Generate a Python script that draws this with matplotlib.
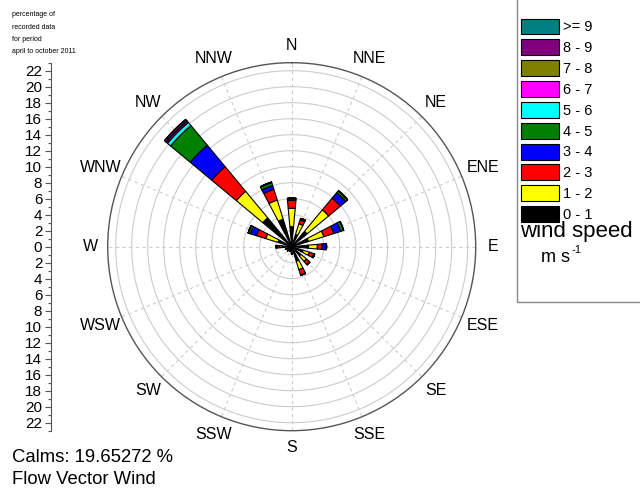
import matplotlib.pyplot as plt
import numpy as np
from matplotlib.patches import Rectangle

plt.rcParams['font.family'] = ['Liberation Sans', 'DejaVu Sans']

# directions (clockwise from N)
directions = ['N', 'NNE', 'NE', 'ENE', 'E', 'ESE', 'SE', 'SSE',
              'S', 'SSW', 'SW', 'WSW', 'W', 'WNW', 'NW', 'NNW']
dir_angles = np.arange(16) * 22.5

# wind speed classes (m/s) and colours
speed_bins = ['0 - 1', '1 - 2', '2 - 3', '3 - 4', '4 - 5',
              '5 - 6', '6 - 7', '7 - 8', '8 - 9', '>= 9']
bin_colors = ['#000000', '#FFFF00', '#FF0000', '#0000FF', '#008000',
              '#00FFFF', '#FF00FF', '#808000', '#800080', '#008080']

# percentage per direction for each speed class
#            N    NNE  NE   ENE  E    ESE  SE   SSE  S    SSW  SW   WSW  W    WNW  NW    NNW
s0_1 = [2.5, 1.6, 2.5, 2.2, 2.1, 1.5, 1.5, 1.9, 0.8, 0.6, 0.6, 0.6, 1.2, 1.8, 4.7, 3.6]
s1_2 = [2.3, 1.4, 3.5, 2.0, 1.1, 0.8, 0.9, 1.1, 0.1, 0.0, 0.1, 0.1, 0.3, 1.6, 4.3, 2.5]
s2_3 = [1.0, 0.5, 1.9, 1.3, 0.6, 0.6, 0.5, 0.7, 0.0, 0.0, 0.0, 0.1, 0.3, 1.2, 4.0, 1.4]
s3_4 = [0.2, 0.2, 0.9, 0.9, 0.5, 0.1, 0.05, 0.05, 0.0, 0.0, 0.0, 0.0, 0.1, 0.8, 3.5, 0.5]
s4_5 = [0.05, 0.0, 0.3, 0.4, 0.05, 0.0, 0.0, 0.0, 0.0, 0.0, 0.0, 0.0, 0.05, 0.3, 3.2, 0.4]
s5_6 = [0.0, 0.0, 0.0, 0.0, 0.0, 0.0, 0.0, 0.0, 0.0, 0.0, 0.0, 0.0, 0.0, 0.0, 0.5, 0.05]
s6_7 = [0.0, 0.0, 0.0, 0.0, 0.0, 0.0, 0.0, 0.0, 0.0, 0.0, 0.0, 0.0, 0.0, 0.0, 0.2, 0.0]
s7_8 = [0.0, 0.0, 0.0, 0.0, 0.0, 0.0, 0.0, 0.0, 0.0, 0.0, 0.0, 0.0, 0.0, 0.0, 0.05, 0.0]
s8_9 = [0.0, 0.0, 0.0, 0.0, 0.0, 0.0, 0.0, 0.0, 0.0, 0.0, 0.0, 0.0, 0.0, 0.0, 0.25, 0.0]
s9_up = [0.0] * 16
speed_data = [s0_1, s1_2, s2_3, s3_4, s4_5, s5_6, s6_7, s7_8, s8_9, s9_up]

calms = 19.65272
r_max = 23

fig = plt.figure(figsize=(6.4, 4.92), dpi=100)

# rose
ax = fig.add_axes([0.1683, 0.1246, 0.575, 0.748], projection='polar')
ax.set_theta_zero_location('N')
ax.set_theta_direction(-1)
ax.set_axisbelow(True)

theta = np.radians(dir_angles)
bottom = np.zeros(16)
handles = []
for lab, vals, col in zip(speed_bins, speed_data, bin_colors):
    vals = np.array(vals)
    bc = ax.bar(theta, vals, width=np.radians(10.5), bottom=bottom, color=col,
                edgecolor='black', linewidth=0.8, label=lab, zorder=3)
    handles.append(bc)
    bottom += vals

ax.set_rlim(0, r_max)
ax.set_rgrids(np.arange(2, 23, 2), labels=[])
ax.set_thetagrids(dir_angles, [''] * 16)
ax.set_xticks(np.radians(dir_angles + 11.25), minor=True)
ax.tick_params(axis='x', which='major', direction='in', length=5, width=0.8,
               color='#555555')
ax.tick_params(axis='x', which='minor', direction='in', length=2.5, width=0.8,
               color='#555555')
ax.yaxis.grid(True, color='#cccccc', linewidth=0.8, linestyle='-')
ax.xaxis.grid(True, color='#cccccc', linewidth=0.8, linestyle=(0, (3, 3)))
ax.spines['polar'].set_color('#555555')
ax.spines['polar'].set_linewidth(1.0)

# direction names outside the circle (wider names sit a bit further out)
for ang, name in zip(dir_angles, directions):
    r_lab = r_max * (201 + 3.25 * (len(name) - 1) * abs(np.sin(np.radians(ang)))) / 184
    ax.text(np.radians(ang), r_lab, name, ha='center', va='center',
            fontsize=11.5, clip_on=False)

# left percentage scale
ax2 = fig.add_axes([50.7 / 640, 0.1246, 0.0001, 0.748])
ax2.set_ylim(-r_max, r_max)
ax2.set_xticks([])
major = np.arange(-22, 23, 2)
ax2.set_yticks(major)
ax2.set_yticklabels([str(abs(v)) for v in major])
ax2.set_yticks(np.arange(-23, 24, 1), minor=True)
ax2.tick_params(axis='y', which='major', direction='out', length=4, width=0.8,
                color='#555555', labelsize=11, pad=2)
ax2.tick_params(axis='y', which='minor', direction='out', length=2.5, width=0.8,
                color='#555555')
for s in ['top', 'right', 'bottom']:
    ax2.spines[s].set_visible(False)
ax2.spines['left'].set_color('#555555')
ax2.spines['left'].set_linewidth(0.8)
ax2.patch.set_visible(False)

# notes
notes = ['percentage of', 'recorded data', 'for period', 'april to october 2011']
for i, t in enumerate(notes):
    fig.text(12 / 640, 1 - (15 + i * 12.2) / 492, t, fontsize=5, va='center')

fig.text(12 / 640, 1 - 457 / 492, 'Calms: %.5f %%' % calms, fontsize=13.3, va='center')
fig.text(12 / 640, 1 - 479 / 492, 'Flow Vector Wind', fontsize=13.3, va='center')

# legend
fig.patches.append(Rectangle((517 / 640, 1 - 302 / 492), 0.3, 0.7,
                             transform=fig.transFigure, fill=False,
                             edgecolor='#888888', linewidth=1.0))
fig.legend(handles[::-1], speed_bins[::-1], loc='upper left',
           bbox_to_anchor=(521 / 640, 1 - 18.5 / 492), frameon=False,
           fontsize=10.5, handlelength=2.6, handleheight=1.3, labelspacing=0.34,
           handletextpad=0.3, borderpad=0, borderaxespad=0)
fig.text(520 / 640, 1 - 232 / 492, 'wind speed', fontsize=16, va='center')
fig.text(541 / 640, 1 - 257 / 492, 'm s', fontsize=13, va='center')
fig.text(571 / 640, 1 - 250 / 492, '-1', fontsize=8, va='center')

fig.savefig('out.png', dpi=100)
